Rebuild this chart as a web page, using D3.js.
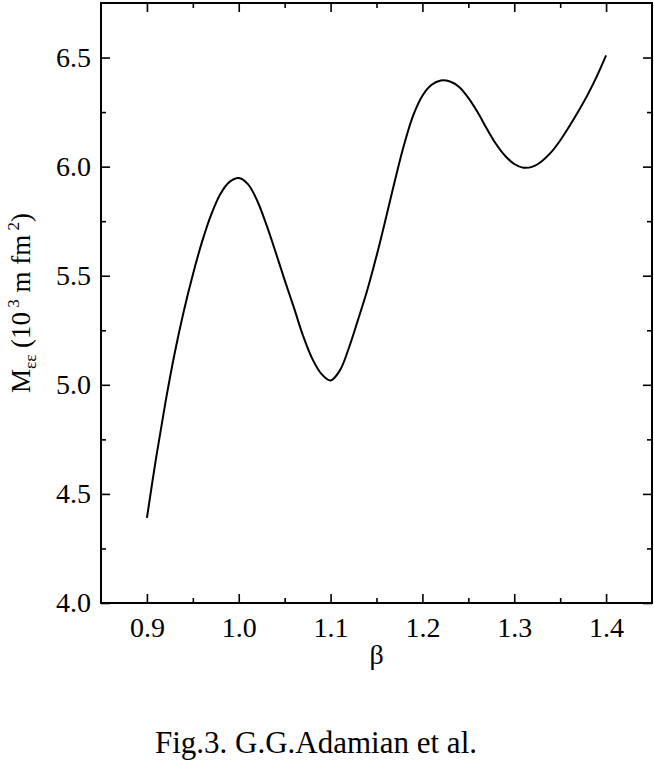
<!DOCTYPE html>
<html>
<head>
<meta charset="utf-8">
<script src="https://cdn.jsdelivr.net/npm/d3@7"></script>
<style>
  html, body { margin: 0; padding: 0; background: #fff; }
  svg { display: block; }
  text { font-family: "Liberation Serif", "DejaVu Serif", serif !important; fill: #000; }
</style>
</head>
<body>
<svg id="chart" width="654" height="767"></svg>
<script>
// ---- data ----
const betaValues = [0.90, 0.91, 0.92, 0.93, 0.94, 0.95, 0.96, 0.97, 0.98, 0.99,
  1.00, 1.01, 1.02, 1.03, 1.04, 1.05, 1.06, 1.07, 1.08, 1.09,
  1.10, 1.11, 1.12, 1.13, 1.14, 1.15, 1.16, 1.17, 1.18, 1.19,
  1.20, 1.21, 1.22, 1.23, 1.24, 1.25, 1.26, 1.27, 1.28, 1.29,
  1.30, 1.31, 1.32, 1.33, 1.34, 1.35, 1.36, 1.37, 1.38, 1.39,
  1.40];
const mValues = [4.39, 4.665, 4.915, 5.14, 5.335, 5.505, 5.655, 5.78, 5.875, 5.93,
  5.948, 5.92, 5.845, 5.735, 5.61, 5.48, 5.355, 5.225, 5.12, 5.05,
  5.02, 5.065, 5.17, 5.30, 5.435, 5.59, 5.76, 5.935, 6.10, 6.235,
  6.325, 6.375, 6.395, 6.39, 6.365, 6.315, 6.25, 6.175, 6.105, 6.05,
  6.012, 5.995, 6.0, 6.025, 6.065, 6.12, 6.185, 6.255, 6.33, 6.415,
  6.51];
const xTickLabels = ["0.9", "1.0", "1.1", "1.2", "1.3", "1.4"];
const yTickLabels = ["4.0", "4.5", "5.0", "5.5", "6.0", "6.5"];
const xMinorTicks = [0.95, 1.05, 1.15, 1.25, 1.35];
const yMinorTicks = [4.25, 4.75, 5.25, 5.75, 6.25];
const xDomain = [0.85, 1.45];
const yDomain = [4.0, 6.75];
const caption = "Fig.3. G.G.Adamian et al.";

// ---- layout ----
const plot = { left: 101, top: 3, right: 652, bottom: 603 };
const svg = d3.select("#chart");
const x = d3.scaleLinear().domain(xDomain).range([plot.left, plot.right]);
const y = d3.scaleLinear().domain(yDomain).range([plot.bottom, plot.top]);
const W = plot.right - plot.left, H = plot.bottom - plot.top;
const major = 9, minor = 5;
const xMajor = xTickLabels.map(Number), yMajor = yTickLabels.map(Number);

function styleAxis(g) {
  g.select(".domain").remove();
  g.attr("font-family", null);
  g.selectAll(".tick line").attr("stroke", "#000").attr("stroke-width", 1.6);
  g.selectAll("text").attr("fill", "#000").attr("font-size", 28);
}

// bottom axis with labels
svg.append("g").attr("transform", `translate(0,${plot.bottom})`)
  .call(d3.axisBottom(x).tickValues(xMajor).tickFormat((d, i) => xTickLabels[i])
    .tickSizeInner(-major).tickPadding(14))
  .call(styleAxis);
svg.append("g").attr("transform", `translate(0,${plot.bottom})`)
  .call(d3.axisBottom(x).tickValues(xMinorTicks).tickFormat("").tickSizeInner(-minor))
  .call(styleAxis);
// top axis
svg.append("g").attr("transform", `translate(0,${plot.top})`)
  .call(d3.axisTop(x).tickValues(xMajor).tickFormat("").tickSizeInner(-major))
  .call(styleAxis);
svg.append("g").attr("transform", `translate(0,${plot.top})`)
  .call(d3.axisTop(x).tickValues(xMinorTicks).tickFormat("").tickSizeInner(-minor))
  .call(styleAxis);
// left axis with labels
svg.append("g").attr("transform", `translate(${plot.left},0)`)
  .call(d3.axisLeft(y).tickValues(yMajor).tickFormat((d, i) => yTickLabels[i])
    .tickSizeInner(-major).tickPadding(10))
  .call(styleAxis);
svg.append("g").attr("transform", `translate(${plot.left},0)`)
  .call(d3.axisLeft(y).tickValues(yMinorTicks).tickFormat("").tickSizeInner(-minor))
  .call(styleAxis);
// right axis
svg.append("g").attr("transform", `translate(${plot.right},0)`)
  .call(d3.axisRight(y).tickValues(yMajor).tickFormat("").tickSizeInner(-major))
  .call(styleAxis);
svg.append("g").attr("transform", `translate(${plot.right},0)`)
  .call(d3.axisRight(y).tickValues(yMinorTicks).tickFormat("").tickSizeInner(-minor))
  .call(styleAxis);

// frame
svg.append("rect")
  .attr("x", plot.left).attr("y", plot.top).attr("width", W).attr("height", H)
  .attr("fill", "none").attr("stroke", "#000").attr("stroke-width", 2);

// curve
const data = betaValues.map((b, i) => ({ b, m: mValues[i] }));
svg.append("path")
  .datum(data)
  .attr("fill", "none").attr("stroke", "#000").attr("stroke-width", 2)
  .attr("stroke-linejoin", "round")
  .attr("d", d3.line().x(d => x(d.b)).y(d => y(d.m)).curve(d3.curveCatmullRom.alpha(0.5)));

// x axis title
svg.append("text")
  .attr("x", (plot.left + plot.right) / 2).attr("y", 664)
  .attr("text-anchor", "middle").attr("font-size", 28)
  .text("β");

// y axis title
const yt = svg.append("text")
  .attr("transform", `translate(30,${(plot.top + plot.bottom) / 2}) rotate(-90)`)
  .attr("text-anchor", "middle").attr("font-size", 27);
yt.append("tspan").text("M");
yt.append("tspan").attr("font-size", 17).attr("dy", 6).text("εε");
yt.append("tspan").attr("dy", -6).text(" (10");
yt.append("tspan").attr("font-size", 17).attr("dy", -11).text(" 3");
yt.append("tspan").attr("dy", 11).text(" m fm");
yt.append("tspan").attr("font-size", 17).attr("dy", -11).text(" 2");
yt.append("tspan").attr("dy", 11).text(")");

// caption
svg.append("text")
  .attr("x", 316).attr("y", 753)
  .attr("text-anchor", "middle").attr("font-size", 31)
  .text(caption);
</script>
</body>
</html>
